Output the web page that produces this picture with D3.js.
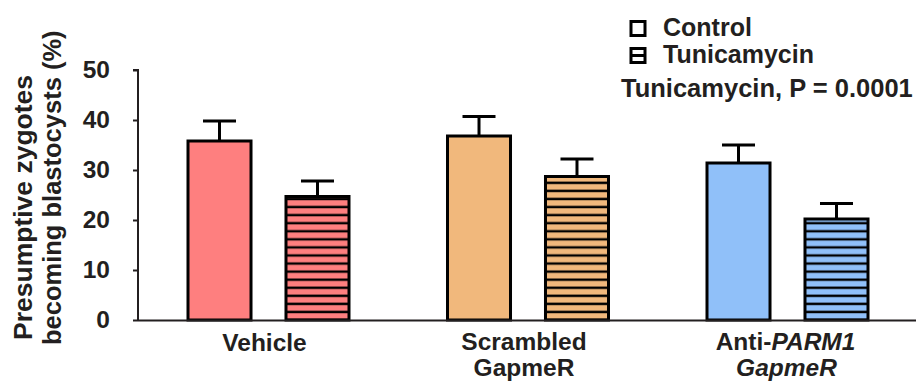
<!DOCTYPE html>
<html>
<head>
<meta charset="utf-8">
<script src="https://cdn.jsdelivr.net/npm/d3@7"></script>
<style>
  html, body { margin: 0; padding: 0; background: #fff; }
  svg { display: block; font-family: "Liberation Sans", Arial, Helvetica, sans-serif; font-weight: bold; }
</style>
</head>
<body>
<svg id="chart" width="916" height="383"></svg>
<script>
// ---- data ----
const groups = ["Vehicle", "Scrambled GapmeR", "Anti-PARM1 GapmeR"];
const series = ["Control", "Tunicamycin"];
const controlValues = [35.8, 36.8, 31.4];
const controlErrors = [4.0, 3.9, 3.6];
const tunicamycinValues = [24.7, 28.7, 20.2];
const tunicamycinErrors = [3.1, 3.5, 3.1];
const groupColors = ["#fe7f7f", "#f1b87c", "#90c0f9"];
const yTicks = [0, 10, 20, 30, 40, 50];
const yTitleLines = ["Presumptive zygotes", "becoming blastocysts (%)"];
const pText = "Tunicamycin, P = 0.0001";

const ink = "#231f20";
const svg = d3.select("#chart");

const y = d3.scaleLinear().domain([0, 50]).range([320, 70]);
const x = d3.scaleBand().domain(groups).range([138.75, 917.25]).paddingInner(0.3796).paddingOuter(0.1898);
const xs = d3.scaleBand().domain(series).range([0, x.bandwidth()]).paddingInner(0.357).paddingOuter(0);

// stripe patterns
const defs = svg.append("defs");
groupColors.forEach((c, i) => {
  const p = defs.append("pattern").attr("id", "stripe" + i)
    .attr("patternUnits", "userSpaceOnUse").attr("width", 8).attr("height", 8.07);
  p.append("rect").attr("width", 8).attr("height", 8.07).attr("fill", c);
  p.append("rect").attr("y", 4.1).attr("width", 8).attr("height", 2.4).attr("fill", "#000");
});

const data = [];
groups.forEach((g, i) => {
  data.push({ g, s: "Control", v: controlValues[i], e: controlErrors[i], fill: groupColors[i] });
  data.push({ g, s: "Tunicamycin", v: tunicamycinValues[i], e: tunicamycinErrors[i], fill: "url(#stripe" + i + ")" });
});

// error bars (behind bars)
const eb = svg.append("g");
data.forEach(d => {
  const cx = x(d.g) + xs(d.s) + xs.bandwidth() / 2;
  eb.append("line").attr("x1", cx).attr("x2", cx).attr("y1", y(d.v)).attr("y2", y(d.v + d.e))
    .attr("stroke", "#000").attr("stroke-width", 3);
  eb.append("line").attr("x1", cx - 16.5).attr("x2", cx + 16.5).attr("y1", y(d.v + d.e)).attr("y2", y(d.v + d.e))
    .attr("stroke", "#000").attr("stroke-width", 3);
});

// bars
svg.append("g").selectAll("rect").data(data).join("rect")
  .attr("x", d => x(d.g) + xs(d.s))
  .attr("y", d => y(d.v))
  .attr("width", xs.bandwidth())
  .attr("height", d => y(0) - y(d.v))
  .attr("fill", d => d.fill)
  .attr("stroke", "#000")
  .attr("stroke-width", 3);

// x axis baseline
svg.append("line").attr("x1", 138).attr("x2", 916).attr("y1", y(0) + 0.5).attr("y2", y(0) + 0.5)
  .attr("stroke", ink).attr("stroke-width", 2);

// y axis
const yAxis = svg.append("g").attr("transform", "translate(138,0)")
  .call(d3.axisLeft(y).tickValues(yTicks).tickSize(5).tickPadding(23));
yAxis.select(".domain").attr("stroke", ink).attr("stroke-width", 2).attr("d", `M-5,${y(50)}H0V${y(0)+1}`);
yAxis.selectAll(".tick line").attr("stroke", ink).attr("stroke-width", 2);
yAxis.selectAll(".tick text").attr("fill", ink).attr("font-size", 24.5)
  .attr("font-family", "Liberation Sans, Arial, sans-serif").attr("font-weight", "bold");

// y title
const yt = svg.append("g").attr("transform", "rotate(-90)");
yt.append("text").attr("x", -340).attr("y", 32).attr("fill", ink).attr("font-size", 26.5).text(yTitleLines[0]);
yt.append("text").attr("x", -345).attr("y", 61).attr("fill", ink).attr("font-size", 25.5).text(yTitleLines[1]);

// x labels (second lines as separate text elements)
const lab = svg.append("g").attr("fill", ink).attr("font-size", 24.5).attr("text-anchor", "middle");
const cx = g => x(g) + x.bandwidth() / 2;
lab.append("text").attr("x", cx(groups[0]) - 4).attr("y", 351).text("Vehicle");
lab.append("text").attr("x", cx(groups[1]) - 4).attr("y", 350).text("Scrambled");
lab.append("text").attr("x", cx(groups[1]) - 4).attr("y", 376).text("GapmeR");
const s3 = lab.append("text").attr("x", cx(groups[2]) - 2).attr("y", 350);
s3.append("tspan").text("Anti-");
s3.append("tspan").attr("font-style", "italic").text("PARM1");
lab.append("text").attr("x", cx(groups[2]) - 1).attr("y", 376).attr("font-style", "italic").text("GapmeR");

// legend
const lg = svg.append("g");
lg.append("rect").attr("x", 631).attr("y", 21.5).attr("width", 14).attr("height", 14)
  .attr("fill", "#fff").attr("stroke", "#000").attr("stroke-width", 3);
lg.append("text").attr("x", 663).attr("y", 36).attr("fill", ink).attr("font-size", 25).text(series[0]);
lg.append("rect").attr("x", 631).attr("y", 48.5).attr("width", 14).attr("height", 14)
  .attr("fill", "#fff").attr("stroke", "#000").attr("stroke-width", 3);
lg.append("line").attr("x1", 631).attr("x2", 645).attr("y1", 55.5).attr("y2", 55.5)
  .attr("stroke", "#000").attr("stroke-width", 3);
lg.append("text").attr("x", 663).attr("y", 63).attr("fill", ink).attr("font-size", 25).text(series[1]);
lg.append("text").attr("x", 621).attr("y", 97).attr("fill", ink).attr("font-size", 25.5).text(pText);
</script>
</body>
</html>
